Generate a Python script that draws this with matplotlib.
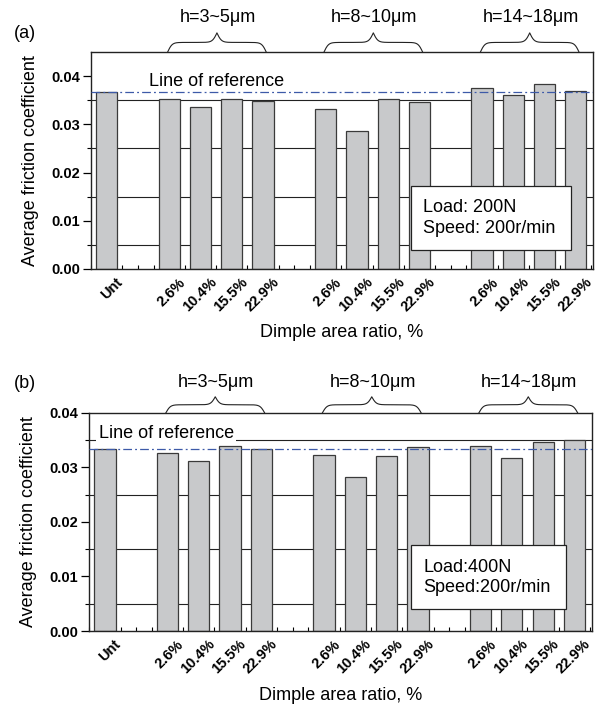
import matplotlib.pyplot as plt
import numpy as np
from matplotlib.transforms import blended_transform_factory
from matplotlib.patches import Rectangle

plt.rcParams['font.family'] = ['Liberation Sans', 'DejaVu Sans']

# data

untreated = 'Unt'
ratios = ['2.6%', '10.4%', '15.5%', '22.9%']
depths = ['h=3~5\u03bcm', 'h=8~10\u03bcm', 'h=14~18\u03bcm']

# order: Unt, then 4 ratios for each depth group
fric_200N = [0.0368,
             0.0353, 0.0336, 0.0352, 0.0349,
             0.0331, 0.0287, 0.0353, 0.0346,
             0.0376, 0.0360, 0.0383, 0.0370]

fric_400N = [0.0333,
             0.0327, 0.0311, 0.0339, 0.0334,
             0.0322, 0.0282, 0.0321, 0.0338,
             0.0339, 0.0317, 0.0346, 0.0350]

cond_200N = 'Load: 200N\nSpeed: 200r/min'
cond_400N = 'Load:400N\nSpeed:200r/min'

# bar positions: Unt at 0, one empty slot before each group
pos = [0]
starts = []
x = 2
for g in range(len(depths)):
    starts.append(x)
    for k in range(len(ratios)):
        pos.append(x + k)
    x += len(ratios) + 1
pos = np.array(pos)
labels = [untreated] + ratios * len(depths)


def brace(ax, x0, x1, h):
    # curly brace on top of the axes, x in data, y in axes fraction
    beta = 14.0
    xs = np.linspace(x0, x1, 401)
    xh = xs[:201]
    yh = 1/(1+np.exp(-beta*(xh-xh[0]))) + 1/(1+np.exp(-beta*(xh-xh[-1])))
    ys = np.concatenate((yh, yh[-2::-1]))
    ys = 1.0 + h*(ys - 0.5)
    tr = blended_transform_factory(ax.transData, ax.transAxes)
    ax.plot(xs, ys, color='#222222', lw=0.8, transform=tr, clip_on=False)


def panel(ax, vals, ytop, cond, box, ref_xy, ref_bg, brace_h, text_h):
    ref = vals[0]
    ax.set_xlim(-0.5, 15.55)
    ax.set_ylim(0, ytop)

    # horizontal grid at the half steps
    for g in [0.005, 0.015, 0.025, 0.035]:
        ax.axhline(g, color='#222222', lw=0.8, zorder=1)

    ax.bar(pos, vals, width=0.68, color='#c8c9cb', edgecolor='#3a3a3a',
           linewidth=0.9, zorder=2)

    ax.axhline(ref, color='#3d5aa8', lw=0.9, ls=(0, (7, 2.5, 1.5, 2.5)), zorder=4)
    t = ax.text(ref_xy[0], ref_xy[1], 'Line of reference', fontsize=13,
                va='baseline', ha='left', zorder=3)
    if ref_bg:
        t.set_bbox(dict(facecolor='white', edgecolor='none', pad=1.5))

    # load / speed box
    ax.add_patch(Rectangle((box[0], box[1]), box[2]-box[0], box[3]-box[1],
                           transform=ax.transAxes, facecolor='white',
                           edgecolor='#222222', lw=0.9, zorder=5))
    ax.text(box[0] + 0.025, (box[1]+box[3])/2, cond, transform=ax.transAxes,
            fontsize=13, ha='left', va='center', linespacing=1.25, zorder=6)

    # braces and depth labels
    tr = blended_transform_factory(ax.transData, ax.transAxes)
    for s, d in zip(starts, depths):
        brace(ax, s - 0.05, s + len(ratios) - 1 + 0.1, brace_h)
        ax.text(s + (len(ratios)-1)/2 + 0.05, 1 + text_h, d, transform=tr,
                fontsize=13, ha='center', va='center')

    ax.set_yticks([0, 0.01, 0.02, 0.03, 0.04])
    ax.set_yticklabels(['0.00', '0.01', '0.02', '0.03', '0.04'],
                       fontsize=10.5, fontweight='bold')
    ax.set_yticks([0.005, 0.015, 0.025, 0.035], minor=True)
    ax.tick_params(axis='y', which='major', length=6, width=0.9, pad=2)
    ax.tick_params(axis='y', which='minor', length=3, width=0.8)

    # category labels, slanted and shifted right of each bar
    ax.set_xticks(pos)
    ax.set_xticklabels([])
    ax.tick_params(axis='x', which='major', length=0)
    for p, lab in zip(pos, labels):
        ax.annotate(lab, xy=(p, 0), xycoords=tr, xytext=(10, -8),
                    textcoords='offset points', rotation=45, ha='right',
                    va='center', rotation_mode='anchor', fontsize=10.5,
                    fontweight='bold', annotation_clip=False)
    ax.set_xticks(np.arange(-0.5, 15.6, 0.5), minor=True)
    ax.tick_params(axis='x', which='minor', direction='in', length=3, width=0.8)

    for sp in ax.spines.values():
        sp.set_linewidth(1.0)
        sp.set_color('#222222')

    ax.set_ylabel('Average friction coefficient', fontsize=13)
    ax.yaxis.set_label_coords(-0.104, 0.5)
    ax.set_xlabel('Dimple area ratio, %', fontsize=13)
    ax.xaxis.set_label_coords(0.5, -0.255)


fig = plt.figure(figsize=(5.95, 7.06), dpi=100)
ax1 = fig.add_axes([0.153, 0.619, 0.8437, 0.3074])
ax2 = fig.add_axes([0.150, 0.1062, 0.8444, 0.3092])

panel(ax1, fric_200N, 0.045, cond_200N, (0.637, 0.088, 0.956, 0.382),
      (1.34, 0.0379), False, 0.088, 0.157)
panel(ax2, fric_400N, 0.040, cond_400N, (0.640, 0.099, 0.948, 0.394),
      (-0.2, 0.03544), True, 0.073, 0.137)

fig.text(25/595, 1 - 33/706, '(a)', fontsize=13, ha='center', va='center')
fig.text(25/595, 1 - 383/706, '(b)', fontsize=13, ha='center', va='center')

plt.savefig('out.png', dpi=100)
